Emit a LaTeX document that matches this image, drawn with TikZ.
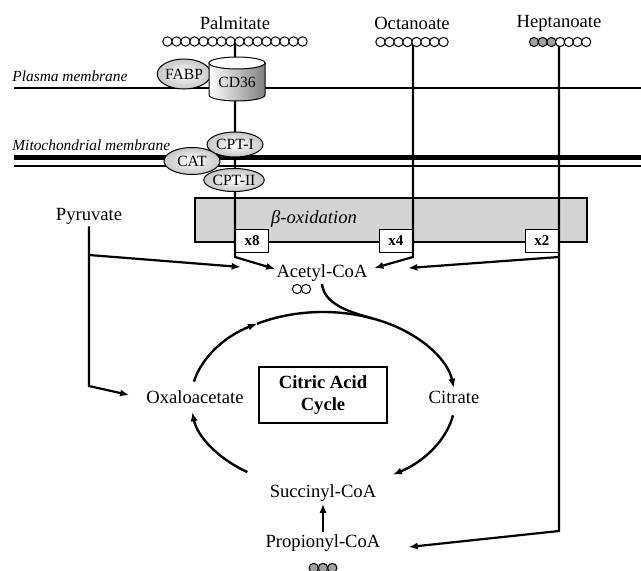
\documentclass[tikz,border=0pt]{standalone}
\usepackage{fontspec}
\setmainfont{Liberation Serif}
\usetikzlibrary{arrows.meta,calc,positioning,shapes.geometric}
\definecolor{oxbox}{HTML}{D3D3D3}
\definecolor{rim}{HTML}{C6C6C6}
\definecolor{carbon}{HTML}{A0A0A0}

\begin{document}
\begin{tikzpicture}[x=0.5pt, y=-0.5pt,
  font=\fontsize{9.3}{11}\selectfont,
  route/.style={line width=1.1pt},
  flow/.style={-{Latex[length=4.5pt,width=3.6pt]}, line width=1.1pt},
  cycflow/.style={-{Latex[length=4.5pt,width=3.6pt]}, line width=1.2pt},
  membrane/.style={font=\fontsize{7.7}{9}\selectfont\itshape, anchor=west, inner sep=0pt},
  protein/.style={ellipse, draw, line width=0.5pt, inner sep=0pt,
    inner color=white, outer color=rim, font=\fontsize{7.8}{9}\selectfont},
  xbox/.style={draw, fill=white, line width=0.6pt, inner sep=0pt,
    minimum width=16.5pt, minimum height=11.5pt, font=\fontsize{7.5}{9}\selectfont\bfseries},
  carbonatom/.style={draw, line width=0.5pt, fill=white},
  metab/.style={inner sep=1pt}
]
  \useasboundingbox (0,0) rectangle (641,571);

  % beta-oxidation band sits under everything else
  \node[draw, fill=oxbox, line width=0.6pt, minimum width=196pt, minimum height=22pt,
    inner sep=0pt] (betabox) at (391,220) {};
  \node (betalabel) at (314,219) {\itshape β-oxidation};

  % membranes
  \draw[line width=1.15pt] (14,88) -- (641,88);
  \draw[line width=2.75pt] (14,157.5) -- (641,157.5);
  \draw[line width=1.25pt] (14,166) -- (641,166);
  \node[membrane] (plasma) at (12,76) {Plasma membrane};
  \node[membrane] (mito) at (12,145) {Mitochondrial membrane};

  % fatty acids
  \node (palm) at (235,23) {Palmitate};
  \node (octa) at (412,23) {Octanoate};
  \node (hepta) at (559,23) {Heptanoate};
  \coordinate (palmchain) at (235,41.5);
  \coordinate (octchain) at (413,42);
  \coordinate (hepchain) at (559,42);

  \node[xbox, anchor=south west] (x8) at (235,253) {x8};
  \node[xbox, anchor=south east] (x4) at (413,253) {x4};
  \node[xbox, anchor=south east] (x2) at (559,253) {x2};

  % metabolites
  \node[metab] (pyruvate) at (89,216) {Pyruvate};
  \node[metab] (acetyl) at (322,273) {Acetyl-CoA};
  \node[metab] (oxalo) at (195,397) {Oxaloacetate};
  \node[metab] (citrate) at (454,397) {Citrate};
  \node[metab] (succinyl) at (323,493) {Succinyl-CoA};
  \node[metab] (propionyl) at (323,543) {Propionyl-CoA};
  \node[draw, line width=0.6pt, minimum width=64pt, minimum height=28pt, align=center,
    font=\fontsize{9.3}{11}\selectfont\bfseries] (citric) at (323,395) {Citric Acid\\Cycle};

  \coordinate (pyrsplit) at (89,255);
  \coordinate (pyrbend) at (89,386);
  \coordinate (hepsplit) at (559,257);
  \coordinate (hepbend) at (559,531);

  \draw[flow] (palmchain) -- (x8.south west) -- ++(0,4) -- ($(acetyl.west)+(1,-4)$);
  \draw[flow] (octchain) -- (x4.south east) -- ++(0,4) -- ($(acetyl.east)+(4.5,-5)$);
  \draw[flow] (hepchain) -- (hepbend) -- ($(propionyl.east)+(26,4)$);
  \draw[flow] (hepsplit) -- ($(acetyl.east)+(38.5,-5)$);
  \draw[flow] (pyruvate.south) -- (pyrbend) -- ($(oxalo.west)+(-15,-2)$);
  \draw[flow] (pyrsplit) -- ($(acetyl.west)+(-33.5,-6)$);
  \draw[flow] (propionyl.north) -- (succinyl.south);

  % carbon chains
  \foreach \i in {0,...,15}
    \draw[carbonatom] ($(palmchain)+(-67.5+9*\i,0)$) circle[radius=2.35pt];
  \foreach \i in {0,...,7}
    \draw[carbonatom] ($(octchain)+(-32.5+9*\i,0)$) circle[radius=2.35pt];
  \foreach \i in {0,1,2}
    \draw[carbonatom, fill=carbon] ($(hepchain)+(-25+8.7*\i,0)$) circle[radius=2.3pt];
  \foreach \i in {3,...,6}
    \draw[carbonatom] ($(hepchain)+(-25+8.7*\i,0)$) circle[radius=2.3pt];
  \foreach \dx in {-25,-16}
    \draw[carbonatom] ($(acetyl)+(\dx,16)$) circle[radius=2.3pt];
  \foreach \i in {-1,0,1}
    \draw[carbonatom, fill=carbon] ($(propionyl)+(9.3*\i,25)$) circle[radius=2.35pt];

  % transporters
  \node[protein, minimum width=26pt, minimum height=15pt] (fabp) at (184,74) {FABP};
  \shadedraw[left color=white, right color=black!50, line width=0.5pt]
    (209,63) -- (209,95) arc[start angle=180, end angle=360, x radius=14pt, y radius=3pt]
    -- (265,63) -- cycle;
  \draw[fill=white, line width=0.5pt] (237,63) ellipse[x radius=14pt, y radius=3pt];
  \node[font=\fontsize{7.8}{9}\selectfont] (cd36) at (237,82) {CD36};
  \node[protein, minimum width=28pt, minimum height=13.5pt] (cat) at (192,161) {CAT};
  \node[protein, minimum width=28pt, minimum height=12.5pt] (cpt1) at (235,144.5) {CPT-I};
  \node[protein, minimum width=27.5pt, minimum height=11.5pt] (cpt2) at (234,180) {CPT-II};

  % citric acid cycle
  \coordinate (cyc) at (323,400);
  \coordinate (join) at ($(cyc)+(68:66pt and 44pt)$);
  \draw[cycflow] ($(cyc)+(168:66pt and 44pt)$)
    arc[start angle=168, end angle=120, x radius=66pt, y radius=44pt];
  \draw[cycflow] ($(cyc)+(120:66pt and 44pt)$)
    arc[start angle=120, end angle=8, x radius=66pt, y radius=44pt];
  \draw[cycflow] ($(cyc)+(-10:66pt and 44pt)$)
    arc[start angle=-10, end angle=-58, x radius=66pt, y radius=44pt];
  \draw[cycflow] ($(cyc)+(-125:66pt and 44pt)$)
    arc[start angle=-125, end angle=-172, x radius=66pt, y radius=44pt];
  \draw[line width=1.2pt] (acetyl.south) .. controls +(2,20) and +(-24,-6.5) .. (join);
\end{tikzpicture}
\end{document}
